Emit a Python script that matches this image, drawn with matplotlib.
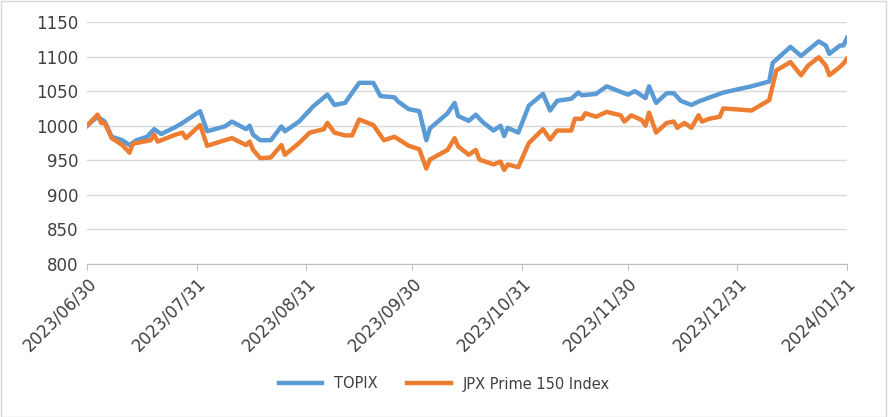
import matplotlib
matplotlib.use("Agg")
import matplotlib.pyplot as plt
import pandas as pd

start = pd.Timestamp("2023-06-30")
topix_days = [0,3,5,7,10,12,14,17,19,21,25,27,32,34,39,41,45,46,47,49,52,55,56,60,64,68,70,73,77,81,83,87,88,91,94,96,97,102,104,105,108,110,112,115,117,118,119,122,125,129,131,133,137,139,140,144,147,153,155,158,159,161,164,166,168,171,173,180,188,193,194,199,202,207,209,210,213,214,215]
topix_vals = [1000,1013,1006,984,979,972,979,984,995,988,998,1004,1021,992,999,1006,995,1000,987,979,979,999,992,1006,1028,1045,1030,1033,1062,1062,1043,1041,1035,1024,1021,979,996,1018,1033,1014,1007,1016,1005,993,1000,985,997,990,1029,1046,1022,1036,1039,1048,1044,1046,1057,1045,1050,1040,1057,1033,1047,1047,1036,1030,1035,1048,1057,1064,1091,1114,1101,1122,1116,1104,1116,1116,1127]
jpx_days = [0,3,4,5,7,10,12,13,18,19,20,25,27,28,32,34,39,41,45,46,47,49,52,55,56,60,63,67,68,70,73,75,77,81,84,87,91,94,96,97,102,104,105,108,110,111,115,117,118,119,122,125,129,131,133,137,138,140,141,144,147,151,152,154,157,158,159,161,164,166,167,169,171,173,174,176,179,180,188,193,195,199,202,204,207,209,210,213,214,215]
jpx_vals = [1000,1016,1004,1004,982,972,961,974,979,987,977,987,990,982,1001,971,979,982,972,977,965,953,954,972,958,975,990,995,1004,990,986,986,1009,1001,979,984,971,966,938,951,965,982,970,958,965,951,944,948,936,944,940,975,995,980,993,993,1010,1010,1018,1013,1020,1015,1006,1015,1008,1000,1019,990,1004,1006,997,1004,997,1015,1006,1010,1013,1025,1022,1037,1080,1092,1073,1087,1099,1087,1073,1085,1090,1097]
tick_labels = ["2023/06/30","2023/07/31","2023/08/31","2023/09/30","2023/10/31","2023/11/30","2023/12/31","2024/01/31"]

td = [start + pd.Timedelta(days=d) for d in topix_days]
jd = [start + pd.Timedelta(days=d) for d in jpx_days]

fig = plt.figure(figsize=(8.88, 4.17), dpi=100)
ax = fig.add_axes([87/888, 1-264/417, 760/888, 242/417])
ax.plot(td, topix_vals, color="#5B9BD5", lw=3.2, label="TOPIX", solid_joinstyle="round")
ax.plot(jd, jpx_vals, color="#ED7D31", lw=3.2, label="JPX Prime 150 Index", solid_joinstyle="round")
ax.set_ylim(800, 1150)
ax.set_yticks(range(800, 1151, 50))
ticks = [pd.Timestamp(t.replace("/", "-")) for t in tick_labels]
ax.set_xticks(ticks)
ax.set_xticklabels(tick_labels, rotation=45, ha="right", rotation_mode="anchor", fontsize=12, color="#404040")
ax.set_xlim(ticks[0], ticks[-1])
ax.tick_params(axis="y", length=0, labelsize=12, labelcolor="#404040", pad=6)
ax.tick_params(axis="x", length=4, color="#BFBFBF")
ax.grid(axis="y", color="#D9D9D9", lw=1)
for s in ["top", "right", "left"]:
    ax.spines[s].set_visible(False)
ax.spines["bottom"].set_color("#BFBFBF")
ax.set_axisbelow(True)
fig.legend(loc="center", bbox_to_anchor=(0.5, 1-384/417), ncol=2, frameon=False, fontsize=10.5,
           handlelength=3, columnspacing=2, labelcolor="#404040")
fig.patches.append(plt.Rectangle((0.001, 0.001), 0.997, 0.997, transform=fig.transFigure, fill=False, ec="#D9D9D9", lw=1))
fig.savefig("out.png", dpi=100)
